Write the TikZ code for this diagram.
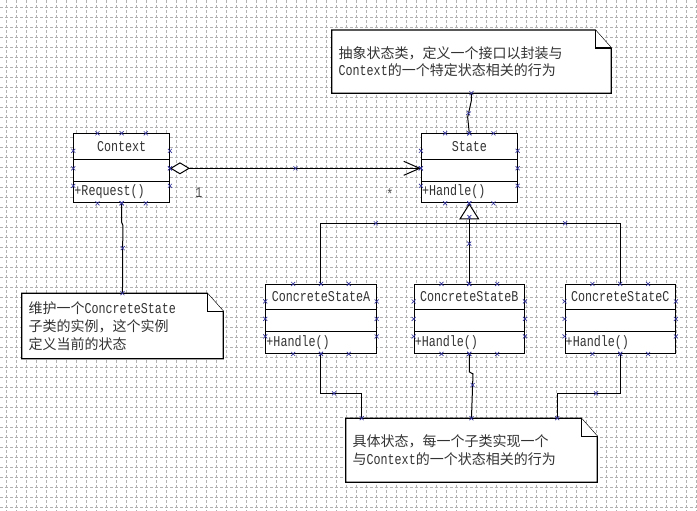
\documentclass[tikz,border=0pt]{standalone}
\usepackage{fontspec}
\setmainfont[FakeStretch=0.78]{Liberation Mono}
\newfontfamily\cjk{Noto Sans CJK SC}
\usepackage{tikz}
\usetikzlibrary{shapes,arrows.meta,positioning,calc,decorations.markings}
\newcommand\Cellbox[3]{%
  \parbox[c][#2][c]{#1}{#3}}
\newcommand\lat[1]{{\rmfamily\fontsize{11.25pt}{13.3pt}\selectfont#1}}
\newcommand\selx[1]{%
  \draw[selmark] #1 +(-2,-2) -- +(2,2) +(-2,2) -- +(2,-2);}
\newcommand\selmarkdraw{\draw[selmark] (-2,-2) -- (2,2) (-2,2) -- (2,-2);}
\pgfdeclarelayer{gridlayer}
\pgfdeclarelayer{notelayer}
\pgfsetlayers{gridlayer,notelayer,main}
\definecolor{selblue}{RGB}{51,51,153}
\tikzset{
  classbox/.style={
    rectangle split, rectangle split parts=3,
    draw, fill=white, inner sep=0pt, line width=0.75pt,
    font=\fontsize{11.25pt}{12pt}\selectfont, text=black!80
  },
  notebox/.style={
    draw=none, inner xsep=5pt, inner ysep=0pt, align=left,
    font=\cjk\fontsize{10.5pt}{13.3pt}\selectfont, text=black!80
  },
  noteline/.style={draw=black, fill=white, line width=0.9pt},
  gridline/.style={draw=black!30, line width=0.75pt, dash pattern=on 2.25pt off 1.5pt},
  selmark/.style={draw=selblue, line width=0.5pt, arrows=-},
  conn/.style={draw=black, line width=0.75pt},
  selpath/.style={postaction={decorate, decoration={markings,
        mark=at position 0 with {\selmarkdraw},
        mark=at position 0.5 with {\selmarkdraw},
        mark=at position 0.999 with {\selmarkdraw}}}},
  mult/.style={inner sep=0pt, font=\fontsize{11.25pt}{12pt}\selectfont, text=black!70}
}
\begin{document}
\begin{tikzpicture}[x=0.75pt,y=-0.75pt]
  \useasboundingbox (0,0) rectangle (697,511);

  % Grid
  \begin{pgfonlayer}{gridlayer}
    \foreach \gx in {6.5,16.5,...,696.5} \draw[gridline] (\gx,0) -- (\gx,511);
    \foreach \gy in {7,17,...,507} \draw[gridline] (0,\gy) -- (697,\gy);
  \end{pgfonlayer}

  % Classes
  \node (context) [classbox, anchor=north west] at (73.3,133.3) {
    \nodepart{one} \Cellbox{71.75pt}{18.5pt}{\centering Context}
    \nodepart{two} \Cellbox{71.75pt}{15.5pt}{}
    \nodepart{three} \Cellbox{71.75pt}{15.5pt}{\raggedright\hspace*{0.5pt}+Request()}
  };
  \node (state) [classbox, right=188.25pt of context] {
    \nodepart{one} \Cellbox{71.75pt}{18.5pt}{\centering State}
    \nodepart{two} \Cellbox{71.75pt}{15.5pt}{}
    \nodepart{three} \Cellbox{71.75pt}{15.5pt}{\raggedright\hspace*{0.5pt}+Handle()}
  };
  \node (concB) [classbox, below=60.45pt of state] {
    \nodepart{one} \Cellbox{82.75pt}{17.75pt}{\centering ConcreteStateB}
    \nodepart{two} \Cellbox{82.75pt}{16.25pt}{}
    \nodepart{three} \Cellbox{82.75pt}{15.5pt}{\raggedright\hspace*{0.5pt}+Handle()}
  };
  \node (concA) [classbox, left=27.75pt of concB] {
    \nodepart{one} \Cellbox{82.75pt}{17.75pt}{\centering ConcreteStateA}
    \nodepart{two} \Cellbox{82.75pt}{16.25pt}{}
    \nodepart{three} \Cellbox{82.75pt}{15.5pt}{\raggedright\hspace*{0.5pt}+Handle()}
  };
  \node (concC) [classbox, right=29.7pt of concB] {
    \nodepart{one} \Cellbox{82.75pt}{17.75pt}{\centering ConcreteStateC}
    \nodepart{two} \Cellbox{82.75pt}{16.25pt}{}
    \nodepart{three} \Cellbox{82.75pt}{15.5pt}{\raggedright\hspace*{0.5pt}+Handle()}
  };

  % Notes
  \node (topnote) [notebox, text width=199.25pt, minimum height=47pt, anchor=north west] at (331.7,30)
    {抽象状态类，定义一个接口以封装与\\\lat{Context}的一个特定状态相关的行为};
  \node (leftnote) [notebox, text width=140.75pt, minimum height=48.75pt, anchor=north west] at (21.7,293.3)
    {维护一个\lat{ConcreteState}\\子类的实例，这个实例\\定义当前的状态};
  \node (botnote) [notebox, text width=178.25pt, minimum height=47.5pt, anchor=north west] at (345.7,418.3)
    {具体状态，每一个子类实现一个\\与\lat{Context}的一个状态相关的行为};
  \begin{pgfonlayer}{notelayer}
    \foreach \n in {topnote,leftnote,botnote}{
      \filldraw[noteline] (\n.north west) -- ($(\n.north east)+(-16,0)$) -- ($(\n.north east)+(0,18)$)
        -- (\n.south east) -- (\n.south west) -- cycle;
      \draw[noteline] ($(\n.north east)+(-16,0)$) |- ($(\n.north east)+(0,18)$);
    }
  \end{pgfonlayer}

  % Aggregation
  \draw[conn, selpath, {Diamond[fill=white,length=15pt,width=9pt]}-{Straight Barb[length=12pt,width=10.5pt]}]
    (context.east) -- (state.west);
  \path (context.east) -- (state.west)
    node (multone) [mult, pos=0.115, yshift=-18pt] {1}
    node (multmany) [mult, pos=0.876, yshift=-19.5pt] {*};

  % Generalization
  \coordinate (genbar) at ($(state.south)+(0,20)$);
  \draw[conn] (concA.north) |- (genbar) -| (concC.north);
  \draw[conn, selpath, -{Triangle[fill=white,length=12pt,width=15pt]}] (concB.north) -- (state.south);
  \selx{($(genbar)+(-93.5,0)$)}
  \selx{($(genbar)+(95.8,0)$)}
  \selx{($(state.south)+(0,13.7)$)}

  % Note links
  \draw[conn, selpath] (topnote.south) -- ++(0,7) -- ++(-3.8,17) -- (state.north);
  \draw[conn, selpath] (context.south) -- ++(0,19) -- ++(1.2,3) -- (leftnote.north);
  \draw[conn, selpath] (concA.south) -- ++(0,39.5) -| ($(botnote.north west)+(16,0)$);
  \draw[conn, selpath] (concB.south) -- ++(0,18) -- ++(3.7,2) -- (botnote.north);
  \draw[conn, selpath] (concC.south) -- ++(0,39.5) -| ($(botnote.north east)+(-40,0)$);

  % Selection marks
  \foreach \n in {context,state,concA,concB,concC}
    \foreach \t in {0.25,0.5,0.75}{
      \selx{($(\n.north west)!\t!(\n.north east)$)}
      \selx{($(\n.south west)!\t!(\n.south east)$)}
      \selx{($(\n.north west)!\t!(\n.south west)$)}
      \selx{($(\n.north east)!\t!(\n.south east)$)}
    }
\end{tikzpicture}
\end{document}
